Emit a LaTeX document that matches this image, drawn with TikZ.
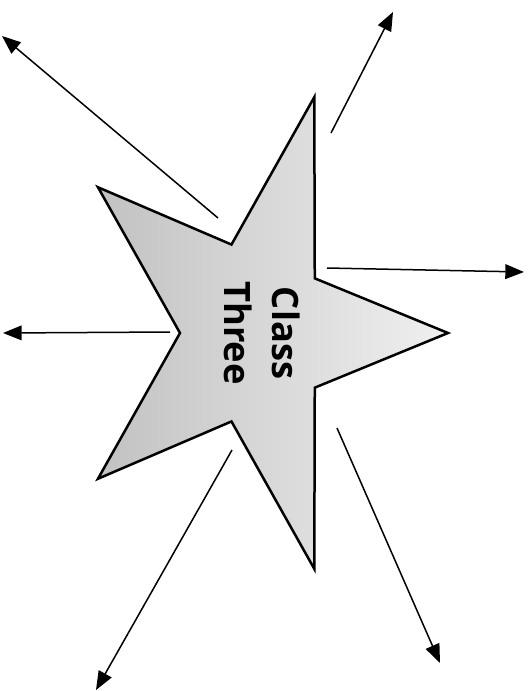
\documentclass[tikz,border=0pt]{standalone}
\usepackage{fontspec}
\setmainfont{Open Sans}
\usepackage{tikz}
\usetikzlibrary{arrows.meta,shapes.geometric}

\begin{document}
\begin{tikzpicture}[x=0.3mm,y=-0.3mm,
    starline/.style={line width=0.75mm,line join=miter,left color=black!24,right color=black!6},
    ray/.style={line width=0.45mm,-{Triangle[length=5.6mm,width=4.4mm]}},
    starlabel/.style={rotate=-90,font=\fontsize{31}{41}\selectfont\bfseries,align=center,inner sep=0pt}]
  \useasboundingbox (0,0) rectangle (531,691);
  % the star, one point to the right
  \coordinate (centre) at (254.5,333);
  \draw[starline,shift={(centre)}] (0:193.5 and 248)
    \foreach \a in {36,108,...,324} {-- (\a:74.5 and 93) -- (\a+36:193.5 and 248)} -- cycle;
  \node[starlabel] (name) at (262,333) {Class\\Three};
  % rays
  \foreach \n/\sx/\sy/\ex/\ey in {nw/218/218/2/36, ne/331/133/393/12, e/327/268/524/272,
      w/170/332/3/333, sw/232/450/96/690, se/337/428/440/663}{
    \coordinate (\n-from) at (\sx,\sy);
    \coordinate (\n-to) at (\ex,\ey);
    \draw[ray] (\n-from) -- (\n-to);
  }
\end{tikzpicture}
\end{document}
